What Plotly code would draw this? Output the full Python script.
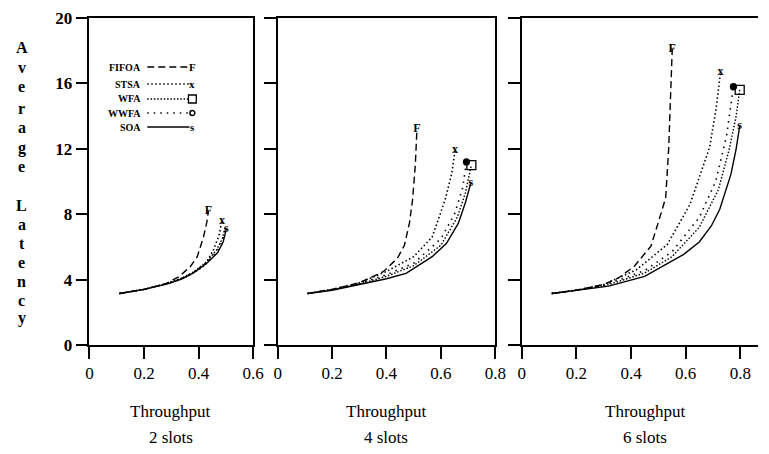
import plotly.graph_objects as go

# ---------------- data ----------------
panels = ["2 slots", "4 slots", "6 slots"]
series_names = ["FIFOA", "STSA", "WFA", "WWFA", "SOA"]

# 2 slots
p1_fifoa_x = [0.11, 0.20, 0.28, 0.33, 0.37, 0.395, 0.418, 0.43, 0.436]
p1_fifoa_y = [3.15, 3.40, 3.75, 4.20, 4.80, 5.40, 6.60, 7.50, 8.20]
p1_stsa_x = [0.11, 0.20, 0.29, 0.35, 0.40, 0.424, 0.454, 0.475, 0.486]
p1_stsa_y = [3.15, 3.40, 3.80, 4.15, 4.60, 4.90, 5.80, 6.70, 7.60]
p1_wfa_x = [0.11, 0.20, 0.29, 0.34, 0.38, 0.43, 0.465, 0.487, 0.498]
p1_wfa_y = [3.15, 3.40, 3.78, 4.10, 4.45, 5.10, 5.80, 6.50, 7.25]
p1_wwfa_x = [0.11, 0.20, 0.29, 0.34, 0.38, 0.43, 0.467, 0.488, 0.500]
p1_wwfa_y = [3.15, 3.40, 3.77, 4.08, 4.42, 5.05, 5.70, 6.40, 7.20]
p1_soa_x = [0.11, 0.20, 0.29, 0.34, 0.38, 0.43, 0.47, 0.49, 0.502]
p1_soa_y = [3.15, 3.40, 3.75, 4.05, 4.40, 5.00, 5.65, 6.30, 7.10]

# 4 slots
p2_fifoa_x = [0.11, 0.20, 0.30, 0.388, 0.44, 0.466, 0.485, 0.496, 0.506, 0.512]
p2_fifoa_y = [3.15, 3.40, 3.80, 4.48, 5.30, 6.10, 7.50, 8.90, 11.0, 13.2]
p2_stsa_x = [0.11, 0.20, 0.30, 0.40, 0.50, 0.568, 0.616, 0.640, 0.652]
p2_stsa_y = [3.15, 3.40, 3.80, 4.50, 5.40, 6.60, 8.90, 10.5, 11.9]
p2_wfa_x = [0.11, 0.20, 0.30, 0.40, 0.50, 0.60, 0.66, 0.69, 0.712]
p2_wfa_y = [3.15, 3.38, 3.72, 4.20, 4.85, 6.10, 7.80, 9.30, 11.0]
p2_wwfa_x = [0.11, 0.20, 0.30, 0.40, 0.50, 0.60, 0.65, 0.68, 0.694]
p2_wwfa_y = [3.15, 3.38, 3.75, 4.30, 5.00, 6.50, 8.00, 9.60, 11.2]
p2_soa_x = [0.11, 0.20, 0.30, 0.40, 0.472, 0.568, 0.62, 0.664, 0.69, 0.71]
p2_soa_y = [3.15, 3.35, 3.70, 4.05, 4.38, 5.40, 6.20, 7.44, 8.70, 9.90]

# 6 slots
p3_fifoa_x = [0.11, 0.20, 0.30, 0.354, 0.413, 0.473, 0.50, 0.527, 0.538, 0.545, 0.551]
p3_fifoa_y = [3.15, 3.35, 3.70, 4.10, 4.83, 6.05, 7.50, 9.00, 12.0, 15.15, 18.1]
p3_stsa_x = [0.11, 0.20, 0.30, 0.42, 0.533, 0.616, 0.688, 0.712, 0.728]
p3_stsa_y = [3.15, 3.35, 3.70, 4.60, 6.15, 8.60, 12.1, 14.5, 16.7]
p3_wfa_x = [0.11, 0.20, 0.30, 0.45, 0.55, 0.65, 0.72, 0.76, 0.785, 0.798]
p3_wfa_y = [3.15, 3.35, 3.60, 4.40, 5.40, 7.20, 9.50, 12.0, 14.0, 15.6]
p3_wwfa_x = [0.11, 0.20, 0.30, 0.45, 0.55, 0.65, 0.71, 0.75, 0.775]
p3_wwfa_y = [3.15, 3.35, 3.65, 4.55, 5.70, 7.80, 10.0, 12.8, 15.8]
p3_soa_x = [0.11, 0.20, 0.318, 0.45, 0.593, 0.65, 0.694, 0.725, 0.745, 0.766, 0.785, 0.798]
p3_soa_y = [3.15, 3.35, 3.60, 4.20, 5.54, 6.30, 7.28, 8.30, 9.30, 10.45, 12.0, 13.4]

x_ticks_p1 = [0, 0.2, 0.4, 0.6]
x_ticks_p23 = [0, 0.2, 0.4, 0.6, 0.8]
y_ticks = [0, 4, 8, 12, 16, 20]
y_title = "Average Latency"

# ---------------- styling ----------------
OFF = 8                     # default html body margin
W, H = 769 - OFF, 454 - OFF
TOP, BOT = 18 - OFF, 345 - OFF
SERIF = "Liberation Serif"
styles = {
    "FIFOA": dict(dash="7px,4px", width=1.4),
    "STSA": dict(dash="1.5px,2.5px", width=1.6),
    "WFA": dict(dash="1.5px,1.8px", width=1.4),
    "WWFA": dict(dash="1.5px,5px", width=1.6),
    "SOA": dict(dash="solid", width=1.4),
}
end_marks = {
    "FIFOA": ("text", "F"),
    "STSA": ("text", "x"),
    "WFA": ("marker", "square-open"),
    "WWFA": ("marker", "circle"),
    "SOA": ("text", "s"),
}

data = {
    1: {"FIFOA": (p1_fifoa_x, p1_fifoa_y), "STSA": (p1_stsa_x, p1_stsa_y),
        "WFA": (p1_wfa_x, p1_wfa_y), "WWFA": (p1_wwfa_x, p1_wwfa_y),
        "SOA": (p1_soa_x, p1_soa_y)},
    2: {"FIFOA": (p2_fifoa_x, p2_fifoa_y), "STSA": (p2_stsa_x, p2_stsa_y),
        "WFA": (p2_wfa_x, p2_wfa_y), "WWFA": (p2_wwfa_x, p2_wwfa_y),
        "SOA": (p2_soa_x, p2_soa_y)},
    3: {"FIFOA": (p3_fifoa_x, p3_fifoa_y), "STSA": (p3_stsa_x, p3_stsa_y),
        "WFA": (p3_wfa_x, p3_wfa_y), "WWFA": (p3_wwfa_x, p3_wwfa_y),
        "SOA": (p3_soa_x, p3_soa_y)},
}

fig = go.Figure()
for p in (1, 2, 3):
    xa = "x" if p == 1 else f"x{p}"
    ya = "y" if p == 1 else f"y{p}"
    for name in series_names:
        xs, ys = data[p][name]
        st = styles[name]
        fig.add_trace(go.Scatter(x=xs, y=ys, mode="lines", xaxis=xa, yaxis=ya,
                                 line=dict(color="black", width=st["width"], dash=st["dash"]),
                                 showlegend=False, hoverinfo="skip"))
        kind, val = end_marks[name]
        if kind == "text":
            fig.add_trace(go.Scatter(x=[xs[-1]], y=[ys[-1]], mode="text", text=[val],
                                     textposition="middle center",
                                     textfont=dict(family=SERIF, size=12, color="black", weight="bold"),
                                     xaxis=xa, yaxis=ya, showlegend=False, hoverinfo="skip"))
        elif p > 1:
            fig.add_trace(go.Scatter(x=[xs[-1]], y=[ys[-1]], mode="markers",
                                     marker=dict(symbol=val, color="black",
                                                 size=9 if val == "square-open" else 6,
                                                 line=dict(width=1.3, color="black")),
                                     xaxis=xa, yaxis=ya, showlegend=False, hoverinfo="skip"))

def px(x):
    return (x - OFF) / W

def py(y):
    return (BOT - (y - OFF)) / (BOT - TOP)

axis_common = dict(showgrid=False, zeroline=False, showline=True, linecolor="black",
                   linewidth=1.5, ticks="outside", ticklen=12, tickwidth=1.5, tickcolor="black")
xfont = dict(family=SERIF, size=17, color="black")

fig.update_layout(
    width=W, height=H, margin=dict(l=0, r=0, t=TOP, b=H - BOT),
    plot_bgcolor="white", paper_bgcolor="white", showlegend=False,
    xaxis=dict(domain=[px(87), px(254)], range=[0, 0.6], tickvals=x_ticks_p1,
               ticktext=[f"{v:g}" for v in x_ticks_p1], mirror=True, anchor="y",
               tickfont=xfont, **axis_common),
    xaxis2=dict(domain=[px(279), px(501)], range=[0, 0.8], tickvals=x_ticks_p23,
                ticktext=[f"{v:g}" for v in x_ticks_p23], mirror=True, anchor="y2",
                tickfont=xfont, **axis_common),
    xaxis3=dict(domain=[px(528), 1.0], range=[0, 0.865], tickvals=x_ticks_p23,
                ticktext=[f"{v:g}" for v in x_ticks_p23], mirror=True, anchor="y3",
                tickfont=xfont, **axis_common),
    yaxis=dict(range=[0, 20], tickvals=y_ticks, anchor="x", mirror=True,
               tickfont=dict(family=SERIF, size=17, color="black", weight="bold"), **axis_common),
    yaxis2=dict(range=[0, 20], tickvals=y_ticks, anchor="x2", mirror=True, showticklabels=False,
                **axis_common),
    yaxis3=dict(range=[0, 20], tickvals=y_ticks, anchor="x3", mirror=False, showticklabels=False,
                **axis_common),
)

annotations = []
for cx, lab in zip([170, 390, 654], panels):
    annotations.append(dict(x=px(cx), y=py(411), xref="paper", yref="paper", text="Throughput",
                            showarrow=False, font=dict(family=SERIF, size=17, color="black"),
                            xanchor="center", yanchor="middle"))
    annotations.append(dict(x=px(cx), y=py(437), xref="paper", yref="paper", text=lab,
                            showarrow=False, font=dict(family=SERIF, size=17, color="black"),
                            xanchor="center", yanchor="middle"))

letter_y = [47, 67, 87, 108, 128, 148, 166, 205, 224, 243, 262, 281, 300, 318]
letters = [c for c in y_title if c != " "]
for c, yy in zip(letters, letter_y):
    annotations.append(dict(x=px(18), y=py(yy), xref="paper", yref="paper", text=c,
                            showarrow=False, font=dict(family=SERIF, size=16, color="black", weight="bold"),
                            xanchor="center", yanchor="middle"))

leg_y = [67, 84, 99, 113, 127]
shapes = []
for name, yy in zip(series_names, leg_y):
    annotations.append(dict(x=px(142), y=py(yy), xref="paper", yref="paper", text=name,
                            showarrow=False, font=dict(family=SERIF, size=10, color="black", weight="bold"),
                            xanchor="right", yanchor="middle"))
    st = styles[name]
    shapes.append(dict(type="line", xref="paper", yref="paper", x0=px(146), x1=px(189),
                       y0=py(yy), y1=py(yy),
                       line=dict(color="black", width=st["width"], dash=st["dash"])))
    kind, val = end_marks[name]
    if kind == "text":
        annotations.append(dict(x=px(192), y=py(yy), xref="paper", yref="paper", text=val,
                                showarrow=False, font=dict(family=SERIF, size=11, color="black", weight="bold"),
                                xanchor="center", yanchor="middle"))
    elif val == "square-open":
        shapes.append(dict(type="rect", xref="paper", yref="paper", x0=px(188), x1=px(196),
                           y0=py(yy + 4), y1=py(yy - 4), line=dict(color="black", width=1.3)))
    else:
        shapes.append(dict(type="circle", xref="paper", yref="paper", x0=px(189.5), x1=px(194.5),
                           y0=py(yy + 2.5), y1=py(yy - 2.5), line=dict(color="black", width=1.5)))

fig.update_layout(annotations=annotations, shapes=shapes)
fig.write_html("out.html")
